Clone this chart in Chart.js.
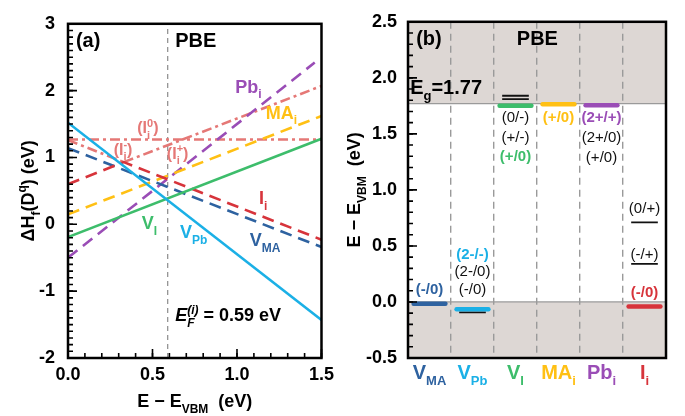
<!DOCTYPE html>
<html>
<head>
<meta charset="utf-8">
<script src="https://cdn.jsdelivr.net/npm/chart.js@4.4.1/dist/chart.umd.min.js"></script>
<style>
  html, body { margin: 0; padding: 0; background: #fff; }
  #wrap { position: relative; width: 685px; height: 416px; }
  .panel { position: absolute; top: 0; }
  #panelA { left: 0; }
  #panelB { left: 340px; }
</style>
</head>
<body>
<div id="wrap">
  <div class="panel" id="panelA"><canvas id="chartA" width="340" height="416"></canvas></div>
  <div class="panel" id="panelB"><canvas id="chartB" width="345" height="416"></canvas></div>
</div>
<script>
// ---- panel (a): formation energy vs Fermi level (eV) ----
const fermiRange = [0, 1.5];
const fermiLevel = 0.59;
const formationRange = [-2, 3];
const vPbEnergy = [1.52, -1.43];
const vIEnergy = [-0.19, 1.28];
const vMaEnergy = [1.14, -0.34];
const maIEnergy = [0.15, 1.62];
const pbIFermi = [0, 1.46];
const pbIEnergy = [-0.5, 2.42];
const iIFermi = [0, 0.33, 1.5];
const iIEnergy = [0.6, 0.93, -0.23];
const iINeutralEnergy = [1.27, 1.27];
const iIMinusFermi = [0, 0.33];
const iIMinusEnergy = [1.26, 0.93];
const iIPlusFermi = [0.33, 1.5];
const iIPlusEnergy = [0.93, 2.07];

// ---- panel (b): transition levels (eV above VBM) ----
const defectNames = ['V_MA', 'V_Pb', 'V_I', 'MA_i', 'Pb_i', 'I_i'];
const bandGap = 1.77;
const levelRange = [-0.5, 2.5];
// first level of each defect is the coloured one
const vMaLevels = [-0.015];
const vPbLevels = [-0.065, -0.093];
const vILevels = [1.75, 1.81, 1.84];
const maILevels = [1.765];
const pbILevels = [1.755];
const iILevels = [-0.04, 0.34, 0.71];
const vMaTransitions = ['(-/0)'];
const vPbTransitions = ['(2-/-)', '(2-/0)', '(-/0)'];
const vITransitions = ['(0/-)', '(+/-)', '(+/0)'];
const maITransitions = ['(+/0)'];
const pbITransitions = ['(2+/+)', '(2+/0)', '(+/0)'];
const iITransitions = ['(0/+)', '(-/+)', '(-/0)'];

const FONT = '"Liberation Sans", Arial, Helvetica, sans-serif';
const colors = {
  vMa: '#2e62a0',
  vPb: '#1bb0e6',
  vI: '#3dbd6b',
  maI: '#ffc014',
  pbI: '#9a4db6',
  iI: '#d7343b',
  iIState: '#e57876',
  gap: '#ddd7d4',
};

// draws text with sub/superscripts: parts are [text, 'sub'|'sup'|'', italic, noAdvance]
function richText(ctx, parts, x, y, o) {
  const size = o.size || 18;
  const small = Math.round(size * 0.66);
  const font = (p) => (p[2] ? 'italic ' : '') + (o.bold === false ? '' : 'bold ') + (p[1] ? small : size) + 'px ' + FONT;
  let w = 0;
  parts.forEach((p) => { ctx.font = font(p); if (!p[3]) w += ctx.measureText(p[0]).width; });
  let cx = o.align === 'center' ? x - w / 2 : x;
  ctx.fillStyle = o.color || '#000';
  ctx.textAlign = 'left';
  ctx.textBaseline = 'alphabetic';
  parts.forEach((p) => {
    ctx.font = font(p);
    const dy = p[1] === 'sub' ? size * 0.32 : p[1] === 'sup' ? -size * 0.42 : 0;
    ctx.fillText(p[0], cx, y + dy);
    if (!p[3]) cx += ctx.measureText(p[0]).width;
  });
}

function rotatedText(ctx, parts, x, y, o) {
  ctx.save();
  ctx.translate(x, y);
  ctx.rotate(-Math.PI / 2);
  richText(ctx, parts, 0, 0, Object.assign({ align: 'center' }, o));
  ctx.restore();
}

// box frame plus inward major/minor ticks
function axisFrame(tickList) {
  return {
    id: 'axisFrame',
    afterDraw(chart) {
      const ctx = chart.ctx;
      const a = chart.chartArea;
      ctx.save();
      ctx.strokeStyle = '#000';
      ctx.lineWidth = 1.6;
      tickList.forEach((t) => {
        const s = chart.scales[t[0]];
        const n = Math.round((s.max - s.min) / t[1]);
        ctx.beginPath();
        for (let k = 0; k <= n; k++) {
          const p = s.getPixelForValue(s.min + k * t[1]);
          if (t[0] === 'x') { ctx.moveTo(p, a.bottom); ctx.lineTo(p, a.bottom - t[2]); }
          else { ctx.moveTo(a.left, p); ctx.lineTo(a.left + t[2], p); }
        }
        ctx.stroke();
      });
      ctx.lineWidth = 2.5;
      ctx.strokeRect(a.left, a.top, a.right - a.left, a.bottom - a.top);
      ctx.restore();
    },
  };
}

function textLayer(draw) {
  return {
    id: 'textLayer',
    afterDatasetsDraw(chart) {
      const { ctx, scales } = chart;
      const at = (x, y) => [scales.x.getPixelForValue(x), scales.y.getPixelForValue(y)];
      ctx.save();
      draw(ctx, chart, at);
      ctx.restore();
    },
  };
}

const baseOptions = (padRight) => ({
  responsive: false,
  animation: false,
  events: [],
  layout: { padding: { top: 14, right: padRight, left: 0, bottom: 0 } },
  plugins: { legend: { display: false }, tooltip: { enabled: false }, filler: { drawTime: 'beforeDraw' } },
});

function chartPanelA(elementId) {
  const pts = (xs, ys) => xs.map((x, i) => ({ x, y: ys[i] }));
  const line = (xs, ys, color, dash, order, width) => ({
    data: pts(xs, ys),
    borderColor: color,
    borderWidth: width || 2.6,
    borderDash: dash,
    pointRadius: 0,
    fill: false,
    tension: 0,
    order: order || 0,
  });
  const dashed = [12, 7];
  const dashDot = [10, 4, 3, 4];

  return new Chart(document.getElementById(elementId), {
    type: 'line',
    data: {
      datasets: [
        line([fermiLevel, fermiLevel], formationRange, '#8a8a8a', [5, 4], 5, 1.2),
        line(fermiRange, iINeutralEnergy, colors.iIState, dashDot, 4),
        line(iIMinusFermi, iIMinusEnergy, colors.iIState, dashDot, 4),
        line(iIPlusFermi, iIPlusEnergy, colors.iIState, dashDot, 4),
        line(fermiRange, maIEnergy, colors.maI, dashed, 3),
        line(pbIFermi, pbIEnergy, colors.pbI, dashed, 3),
        line(iIFermi, iIEnergy, colors.iI, dashed, 2),
        line(fermiRange, vMaEnergy, colors.vMa, dashed, 2),
        line(fermiRange, vIEnergy, colors.vI, [], 1),
        line(fermiRange, vPbEnergy, colors.vPb, [], 0),
      ],
    },
    options: Object.assign(baseOptions(14), {
      scales: {
        x: {
          type: 'linear', min: fermiRange[0], max: fermiRange[1],
          ticks: { stepSize: 0.5, padding: 6, maxRotation: 0, color: '#000', font: { family: FONT, size: 18, weight: 'bold' }, callback: (v) => v.toFixed(1) },
          grid: { display: false, drawTicks: false },
          border: { display: false },
          afterFit: (s) => { s.height = 58; },
        },
        y: {
          min: formationRange[0], max: formationRange[1],
          ticks: { stepSize: 1, padding: 13, color: '#000', font: { family: FONT, size: 18, weight: 'bold' } },
          grid: { display: false, drawTicks: false },
          border: { display: false },
          afterFit: (s) => { s.width = 68; },
        },
      },
    }),
    plugins: [
      axisFrame([['x', 0.1, 5], ['x', 0.5, 9], ['y', 0.1, 5], ['y', 1, 9]]),
      textLayer((ctx, chart, at) => {
        const a = chart.chartArea;
        const put = (parts, x, y, o) => { const p = at(x, y); richText(ctx, parts, p[0], p[1], o || {}); };
        put([['(a)']], 0.047, 2.65, { size: 20 });
        put([['PBE']], 0.634, 2.65, { size: 20 });
        put([['Pb'], ['i', 'sub']], 0.99, 1.97, { color: colors.pbI });
        put([['MA'], ['i', 'sub']], 1.17, 1.58, { color: colors.maI });
        put([['I'], ['i', 'sub']], 1.13, 0.3, { color: colors.iI });
        put([['V'], ['I', 'sub']], 0.436, -0.07, { color: colors.vI });
        put([['V'], ['Pb', 'sub']], 0.663, -0.21, { color: colors.vPb });
        put([['V'], ['MA', 'sub']], 1.076, -0.33, { color: colors.vMa });
        const pink = { color: colors.iIState, size: 16 };
        put([['('], ['I'], ['i', 'sub', false, true], ['0', 'sup'], [')']], 0.41, 1.36, pink);
        put([['('], ['I'], ['i', 'sub', false, true], ['-', 'sup'], [')']], 0.27, 1.04, pink);
        put([['('], ['I'], ['i', 'sub', false, true], ['+', 'sup'], [')']], 0.585, 0.98, pink);
        put([['E', '', true], ['F', 'sub', true, true], ['(i)', 'sup', true], [' = 0.59 eV']], 0.634, -1.45, { size: 18 });
        richText(ctx, [['E − E'], ['VBM', 'sub'], ['  (eV)']], (a.left + a.right) / 2, a.bottom + 49, { align: 'center' });
        rotatedText(ctx, [['ΔH'], ['f', 'sub'], ['(D'], ['q', 'sup'], [') (eV)']], a.left - 34, (a.top + a.bottom) / 2, {});
      }),
    ],
  });
}

function chartPanelB(elementId) {
  const defectLevels = [vMaLevels, vPbLevels, vILevels, maILevels, pbILevels, iILevels];
  const defectTransitions = [vMaTransitions, vPbTransitions, vITransitions, maITransitions, pbITransitions, iITransitions];
  const defectColors = [colors.vMa, colors.vPb, colors.vI, colors.maI, colors.pbI, colors.iI];
  const cols = defectNames.length;

  const datasets = [
    // band-gap edges, grey outside the gap
    { data: [{ x: 0, y: bandGap }, { x: cols, y: bandGap }], borderColor: '#9a9a9a', borderWidth: 1.2, backgroundColor: colors.gap, fill: 'end', pointRadius: 0, order: 9 },
    { data: [{ x: 0, y: 0 }, { x: cols, y: 0 }], borderColor: '#9a9a9a', borderWidth: 1.2, backgroundColor: colors.gap, fill: 'start', pointRadius: 0, order: 9 },
  ];
  defectLevels.forEach((levels, i) => {
    levels.forEach((e, j) => {
      const half = j === 0 ? 0.37 : 0.31;
      datasets.push({
        data: [{ x: i + 0.5 - half, y: e }, { x: i + 0.5 + half, y: e }],
        borderColor: j === 0 ? defectColors[i] : '#111',
        borderWidth: j === 0 ? 4.5 : 1.8,
        borderCapStyle: j === 0 ? 'round' : 'butt',
        pointRadius: 0,
        fill: false,
        order: j === 0 ? 0 : 1,
      });
    });
  });

  // label baselines (eV) and which one is coloured
  const labelY = [[0.07], [0.38, 0.23, 0.07], [1.61, 1.43, 1.26], [1.61], [1.61, 1.43, 1.25], [0.79, 0.38, 0.04]];
  const labelHi = [0, 0, 2, 0, 0, 2];

  return new Chart(document.getElementById(elementId), {
    type: 'line',
    data: { datasets },
    options: Object.assign(baseOptions(19), {
      scales: {
        x: {
          type: 'linear', min: 0, max: cols,
          ticks: { stepSize: 1, display: false },
          grid: { color: '#9a9a9a', lineWidth: 1.4, drawTicks: false },
          border: { display: false, dash: [7, 5] },
          afterFit: (s) => { s.height = 58; },
        },
        y: {
          min: levelRange[0], max: levelRange[1],
          ticks: { stepSize: 0.5, padding: 11, color: '#000', font: { family: FONT, size: 18, weight: 'bold' }, callback: (v) => v.toFixed(1) },
          grid: { display: false, drawTicks: false },
          border: { display: false },
          afterFit: (s) => { s.width = 68; },
        },
      },
    }),
    plugins: [
      axisFrame([['y', 0.1, 5], ['y', 0.5, 9]]),
      textLayer((ctx, chart, at) => {
        const a = chart.chartArea;
        const put = (parts, x, y, o) => { const p = at(x, y); richText(ctx, parts, p[0], p[1], o || {}); };
        put([['(b)']], 0.19, 2.29, { size: 20 });
        put([['PBE']], 2.53, 2.29, { size: 20 });
        put([['E'], ['g', 'sub'], ['=1.77']], 0.05, 1.86, { size: 20 });
        defectTransitions.forEach((list, i) => {
          list.forEach((t, j) => {
            const hi = j === labelHi[i];
            put([[t]], i + 0.5, labelY[i][j], { align: 'center', size: 15, bold: hi, color: hi ? defectColors[i] : '#111' });
          });
          const name = defectNames[i].split('_');
          richText(ctx, [[name[0]], [name[1], 'sub']], at(i + 0.5, 0)[0], a.bottom + 21, { size: 20, align: 'center', color: defectColors[i] });
        });
        rotatedText(ctx, [['E − E'], ['VBM', 'sub'], ['  (eV)']], a.left - 48, (a.top + a.bottom) / 2, {});
      }),
    ],
  });
}

chartPanelA('chartA');
chartPanelB('chartB');
</script>
</body>
</html>
